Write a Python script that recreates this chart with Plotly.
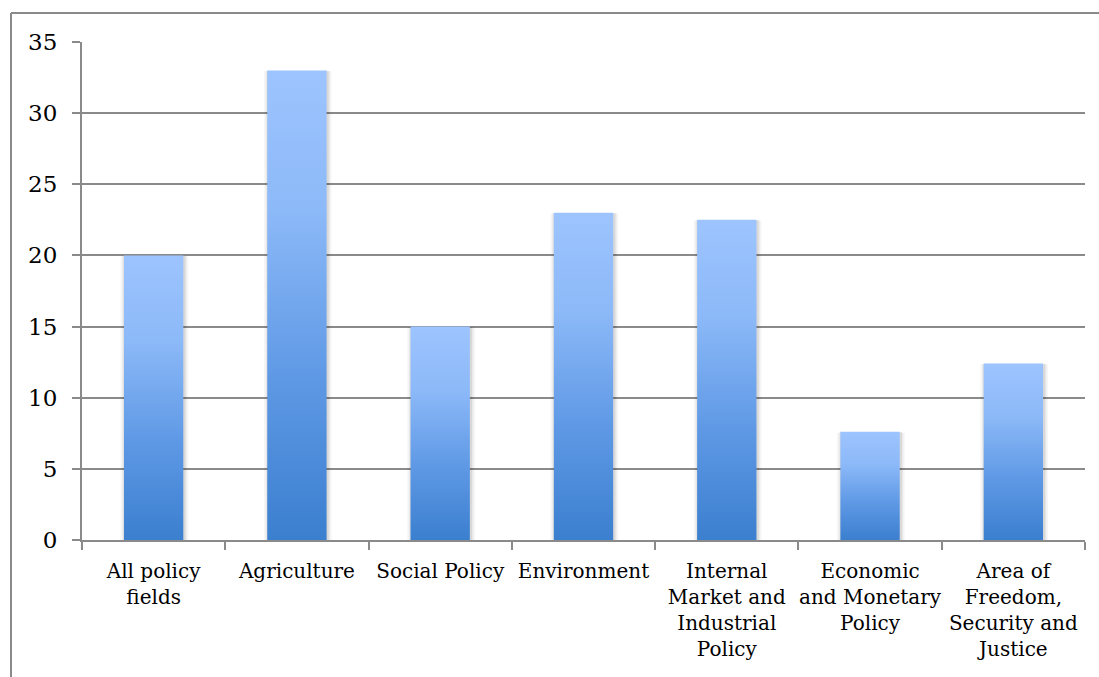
import plotly.graph_objects as go

# Share of legislative acts by policy field
categories = [
    "All policy<br>fields",
    "Agriculture",
    "Social Policy",
    "Environment",
    "Internal<br>Market and<br>Industrial<br>Policy",
    "Economic<br>and Monetary<br>Policy",
    "Area of<br>Freedom,<br>Security and<br>Justice",
]
values = [20, 33, 15, 23, 22.5, 7.6, 12.4]
y_ticks = [0, 5, 10, 15, 20, 25, 30, 35]

BAR_HALF = 0.207
GRID = "#8a8a8a"
FONT = "DejaVu Serif"

fig = go.Figure()

# soft shadow behind each bar, then the bar with a vertical gradient
for i, v in enumerate(values):
    for grow, alpha in ((0.030, 0.035), (0.018, 0.05), (0.009, 0.07)):
        h = BAR_HALF + grow
        fig.add_trace(go.Scatter(
            x=[i - h + 0.006, i - h + 0.006, i + h + 0.006, i + h + 0.006],
            y=[0, v - grow * 2, v - grow * 2, 0],
            fill="toself", mode="none",
            fillcolor=f"rgba(0,0,0,{alpha})",
            hoverinfo="skip", showlegend=False,
        ))
    fig.add_trace(go.Scatter(
        x=[i - BAR_HALF, i - BAR_HALF, i + BAR_HALF, i + BAR_HALF],
        y=[0, v, v, 0],
        fill="toself", mode="none",
        fillgradient=dict(
            type="vertical",
            colorscale=[[0, "#3b7fcf"], [0.35, "#5f99e5"],
                        [0.7, "#8cb9f8"], [1, "#9dc4fe"]],
        ),
        hovertemplate=f"{categories[i].replace('<br>', ' ')}: {v}<extra></extra>",
        showlegend=False,
    ))

fig.update_layout(
    width=1099, height=677,
    margin=dict(l=82, r=14, t=42, b=137),
    paper_bgcolor="white", plot_bgcolor="white",
    font=dict(family=FONT, color="black"),
    xaxis=dict(
        range=[-0.5, 6.5],
        tickmode="array",
        tickvals=list(range(len(categories))),
        ticktext=categories,
        tickangle=0,
        automargin=False,
        ticks="",
        tickfont=dict(size=20),
        ticklabelstandoff=12,
        showgrid=False, zeroline=False,
        showline=True, linecolor=GRID, linewidth=2,
        minor=dict(tick0=-0.5, dtick=1, ticks="outside", ticklen=8,
                   tickcolor=GRID, tickwidth=2, showgrid=False),
        fixedrange=True,
    ),
    yaxis=dict(
        range=[0, 35],
        tickmode="array",
        tickvals=y_ticks,
        automargin=False,
        ticks="outside", ticklen=8, tickcolor=GRID, tickwidth=2,
        tickfont=dict(size=23),
        ticklabelstandoff=10,
        showgrid=True, gridcolor=GRID, gridwidth=1.8,
        zeroline=False,
        showline=True, linecolor=GRID, linewidth=2,
        fixedrange=True,
    ),
    shapes=[
        # outer frame of the chart area
        dict(type="line", xref="paper", yref="paper",
             x0=(11 - 82) / 1003, x1=1.02, y0=(540 - 13) / 498, y1=(540 - 13) / 498,
             line=dict(color=GRID, width=2)),
        dict(type="line", xref="paper", yref="paper",
             x0=(11 - 82) / 1003, x1=(11 - 82) / 1003,
             y0=(540 - 13) / 498, y1=-0.3,
             line=dict(color=GRID, width=2)),
    ],
)

fig.write_html("out.html")
